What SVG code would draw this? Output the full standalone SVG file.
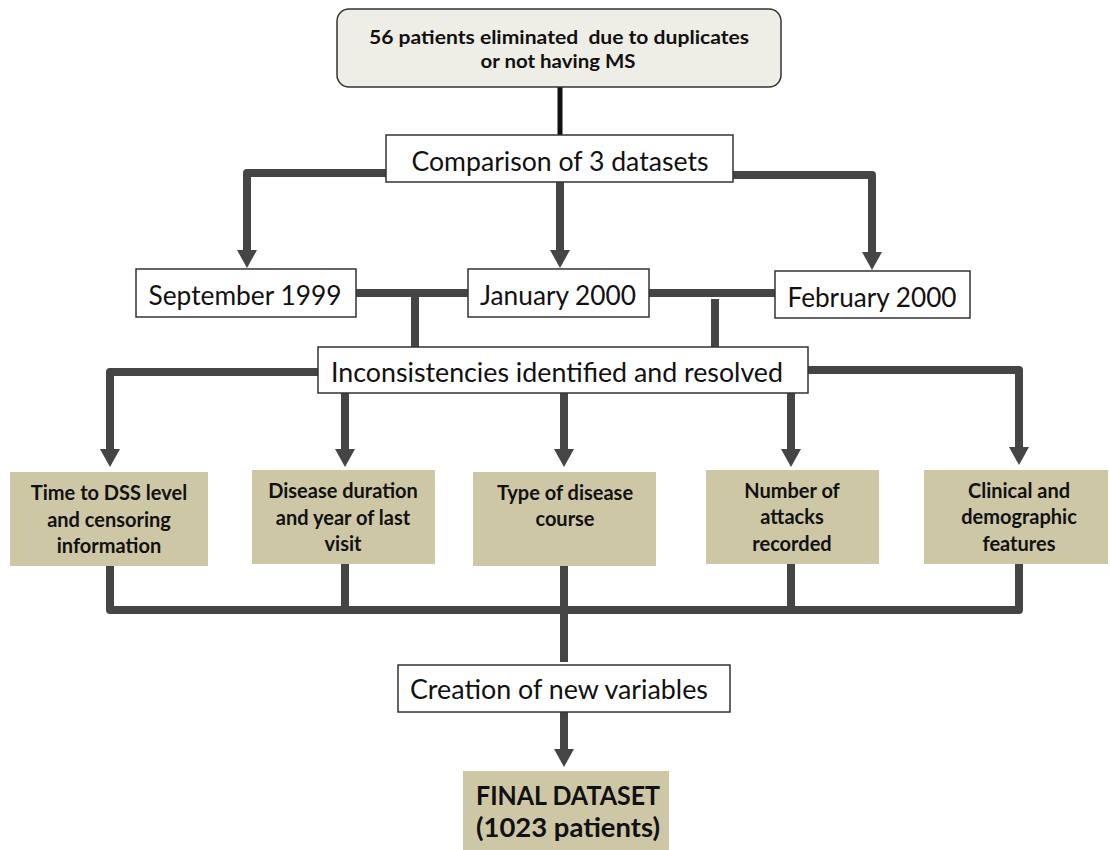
<svg xmlns="http://www.w3.org/2000/svg" width="1110" height="850" viewBox="0 0 1110 850">
<style>
.wbox{fill:#ffffff;stroke:#333333;stroke-width:1.5}
.tbox{fill:#CEC7A6;stroke:none}
.top{fill:#EFEEE6;stroke:#333333;stroke-width:1.5}
.reg{font-family:Lato,"Open Sans","Liberation Sans",sans-serif;font-size:26px;fill:#111;text-anchor:middle}
.bld{font-family:Lato,"Open Sans","Liberation Sans",sans-serif;font-size:20px;font-weight:bold;fill:#111;text-anchor:middle}
.tb{font-family:Lato,"Open Sans","Liberation Sans",sans-serif;font-size:19.5px;font-weight:bold;fill:#111;text-anchor:middle}
.big{font-family:Lato,"Open Sans","Liberation Sans",sans-serif;font-size:26px;font-weight:bold;fill:#111;text-anchor:middle}
.c{fill:none;stroke:#454545;stroke-width:8;stroke-linejoin:round}
.ca{fill:none;stroke:#454545;stroke-width:8;stroke-linejoin:round;marker-end:url(#ah)}
</style>
<defs>
<marker id="ah" markerUnits="userSpaceOnUse" viewBox="0 0 18 20" markerWidth="18" markerHeight="20" refX="0" refY="10" orient="auto">
<path d="M0,0 L18,10 L0,20 z" fill="#454545"/>
</marker>
</defs>
<g id="connectors">
<line x1="560" y1="87" x2="560" y2="135" stroke="#111" stroke-width="5"/>
<path class="ca" d="M386,173 H247 V250"/>
<path class="ca" d="M560,182 V250"/>
<path class="ca" d="M733,175 H872 V252"/>
<path class="c" d="M356,293 H468"/>
<path class="c" d="M415,293 V347"/>
<path class="c" d="M649,293 H775"/>
<path class="c" d="M715,299 V347"/>
<path class="ca" d="M318,372 H110 V449"/>
<path class="ca" d="M345,393 V449"/>
<path class="ca" d="M564,393 V449"/>
<path class="ca" d="M791,393 V449"/>
<path class="ca" d="M808,370 H1019 V447"/>
<path class="c" d="M110,566 V610 H1019 V564"/>
<path class="c" d="M345,564 V610"/>
<path class="c" d="M564,566 V662"/>
<path class="c" d="M791,564 V610"/>
<path class="ca" d="M564,712 V749"/>
</g>
<g id="n-eliminated">
<rect class="top" x="337" y="9" width="444" height="78" rx="12"/>
<text class="tb" x="559" y="44" textLength="380" lengthAdjust="spacingAndGlyphs" xml:space="preserve">56 patients eliminated  due to duplicates</text>
<text class="tb" x="558" y="68" textLength="155" lengthAdjust="spacingAndGlyphs">or not having MS</text>
</g>
<g id="n-comparison">
<rect class="wbox" x="386" y="135" width="347" height="47"/>
<text class="reg" x="560" y="171" textLength="297" lengthAdjust="spacingAndGlyphs">Comparison of 3 datasets</text>
</g>
<g id="n-sep1999">
<rect class="wbox" x="136" y="269" width="220" height="48"/>
<text class="reg" x="245" y="305" textLength="193" lengthAdjust="spacingAndGlyphs">September 1999</text>
</g>
<g id="n-jan2000">
<rect class="wbox" x="468" y="269" width="181" height="48"/>
<text class="reg" x="558" y="305" textLength="156" lengthAdjust="spacingAndGlyphs">January 2000</text>
</g>
<g id="n-feb2000">
<rect class="wbox" x="775" y="271" width="195" height="47"/>
<text class="reg" x="872" y="307" textLength="169" lengthAdjust="spacingAndGlyphs">February 2000</text>
</g>
<g id="n-inconsistencies">
<rect class="wbox" x="318" y="347" width="490" height="46"/>
<text class="reg" x="557" y="382" textLength="452" lengthAdjust="spacingAndGlyphs">Inconsistencies identified and resolved</text>
</g>
<g id="n-time">
<rect class="tbox" x="10" y="472" width="198" height="94"/>
<text class="bld" x="109" y="500">Time to DSS level</text>
<text class="bld" x="109" y="527">and censoring</text>
<text class="bld" x="109" y="553">information</text>
</g>
<g id="n-duration">
<rect class="tbox" x="252" y="470" width="183" height="94"/>
<text class="bld" x="343" y="498">Disease duration</text>
<text class="bld" x="343" y="525">and year of last</text>
<text class="bld" x="343" y="551">visit</text>
</g>
<g id="n-type">
<rect class="tbox" x="473" y="472" width="183" height="94"/>
<text class="bld" x="565" y="500">Type of disease</text>
<text class="bld" x="565" y="526">course</text>
</g>
<g id="n-attacks">
<rect class="tbox" x="706" y="470" width="173" height="94"/>
<text class="bld" x="792" y="498">Number of</text>
<text class="bld" x="792" y="524">attacks</text>
<text class="bld" x="792" y="551">recorded</text>
</g>
<g id="n-clinical">
<rect class="tbox" x="924" y="470" width="184" height="94"/>
<text class="bld" x="1019" y="498">Clinical and</text>
<text class="bld" x="1019" y="524">demographic</text>
<text class="bld" x="1019" y="551">features</text>
</g>
<g id="n-creation">
<rect class="wbox" x="398" y="665" width="332" height="47"/>
<text class="reg" x="559" y="699" textLength="298" lengthAdjust="spacingAndGlyphs">Creation of new variables</text>
</g>
<g id="n-final">
<rect class="tbox" x="463" y="771" width="206" height="79"/>
<text class="big" x="568" y="805" textLength="184" lengthAdjust="spacingAndGlyphs">FINAL DATASET</text>
<text class="big" x="568" y="837" textLength="184" lengthAdjust="spacingAndGlyphs">(1023 patients)</text>
</g>
</svg>
